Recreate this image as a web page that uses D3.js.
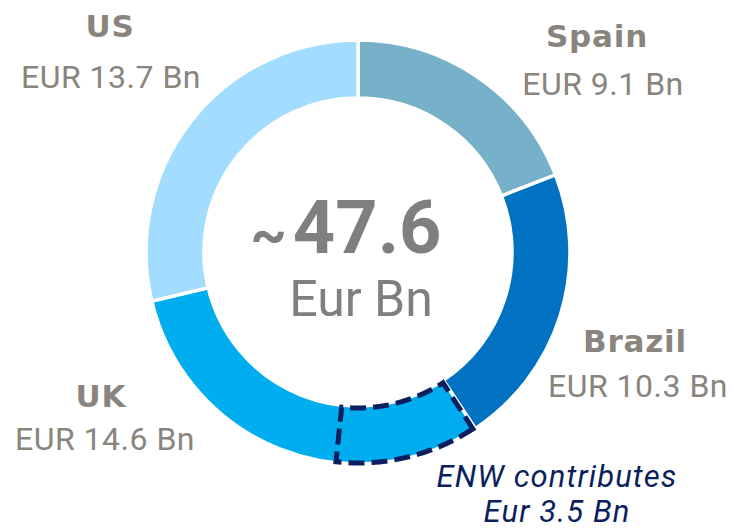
<!DOCTYPE html>
<html>
<head>
<meta charset="utf-8">
<script src="https://cdn.jsdelivr.net/npm/d3@7"></script>
<style>
  body { margin: 0; background: #fff; }
  #chart { width: 738px; height: 532px; }
  text { font-family: Roboto, "Open Sans", sans-serif; }
  text.name { font-family: "DejaVu Sans", sans-serif; }
</style>
</head>
<body>
<div id="chart"></div>
<script>
// segment data, clockwise from 12 o'clock
var countries = ["Spain", "Brazil", "UK", "US"];
var values = [9.1, 10.3, 14.6, 13.7];
var valueLabels = ["EUR 9.1 Bn", "EUR 10.3 Bn", "EUR 14.6 Bn", "EUR 13.7 Bn"];
var colors = ["#77b1c9", "#0072c1", "#00adee", "#a2dcfe"];

var totalLabel = "~47.6";
var totalUnit = "Eur Bn";
var enwLines = ["ENW contributes", "Eur 3.5 Bn"];
// ENW highlight sits at the start of the UK slice (degrees, clockwise from top)
var enwRange = [147, 186];

var width = 738, height = 532;
var cx = 358, cy = 252;
var outerR = 212, innerR = 154;

var svg = d3.select("#chart").append("svg")
    .attr("width", width)
    .attr("height", height);

var g = svg.append("g")
    .attr("transform", "translate(" + cx + "," + cy + ")");

var pie = d3.pie()
    .sort(null)
    .value(function(d) { return d; });

var arc = d3.arc()
    .innerRadius(innerR)
    .outerRadius(outerR);

var slices = pie(values);

g.selectAll(".slice")
    .data(slices)
    .enter().append("path")
    .attr("class", "slice")
    .attr("d", arc)
    .attr("fill", function(d, i) { return colors[i]; })
    .attr("stroke", "#fff")
    .attr("stroke-width", 3.5);

// dashed ENW outline
var rad = Math.PI / 180;
g.append("path")
    .attr("d", d3.arc()
        .innerRadius(innerR + 2)
        .outerRadius(outerR - 1)
        .startAngle(enwRange[0] * rad)
        .endAngle(enwRange[1] * rad)())
    .attr("fill", "none")
    .attr("stroke", "#0b1f5e")
    .attr("stroke-width", 5)
    .attr("stroke-dasharray", "16,7");

// centre total
var total = g.append("text")
    .attr("x", -8).attr("y", 1)
    .attr("text-anchor", "middle")
    .attr("fill", "#7f7f7f")
    .attr("font-weight", 700)
    .attr("font-size", 74);
total.append("tspan")
    .attr("font-size", 56)
    .attr("dx", -4)
    .text(totalLabel.slice(0, 1));
total.append("tspan")
    .attr("dx", 6)
    .text(totalLabel.slice(1));

g.append("text")
    .attr("x", 3).attr("y", 64)
    .attr("text-anchor", "middle")
    .attr("fill", "#7f7f7f")
    .attr("font-size", 50)
    .text(totalUnit);

// outside labels: [x, name baseline, value baseline, value x]
var labelPos = [[597, 47, 95, 603], [635, 352, 397, 638], [101, 407, 450, 105], [110, 37, 88, 111]];
var labelColor = "#8a847e";

var labels = svg.selectAll(".lbl")
    .data(countries)
    .enter().append("g")
    .attr("class", "lbl");

labels.append("text")
    .attr("class", "name")
    .attr("x", function(d, i) { return labelPos[i][0]; })
    .attr("y", function(d, i) { return labelPos[i][1]; })
    .attr("text-anchor", "middle")
    .attr("fill", labelColor)
    .attr("font-weight", 700)
    .attr("font-size", 31)
    .attr("letter-spacing", 0.8)
    .text(function(d) { return d; });

labels.append("text")
    .attr("x", function(d, i) { return labelPos[i][3]; })
    .attr("y", function(d, i) { return labelPos[i][2]; })
    .attr("text-anchor", "middle")
    .attr("fill", labelColor)
    .attr("font-size", 32)
    .attr("letter-spacing", 0.5)
    .text(function(d, i) { return valueLabels[i]; });

svg.selectAll(".enw")
    .data(enwLines)
    .enter().append("text")
    .attr("class", "enw")
    .attr("x", 557)
    .attr("y", function(d, i) { return 487 + i * 35; })
    .attr("text-anchor", "middle")
    .attr("fill", "#0b1f5e")
    .attr("font-style", "italic")
    .attr("font-size", 31)
    .attr("letter-spacing", 1.1)
    .text(function(d) { return d; });
</script>
</body>
</html>
